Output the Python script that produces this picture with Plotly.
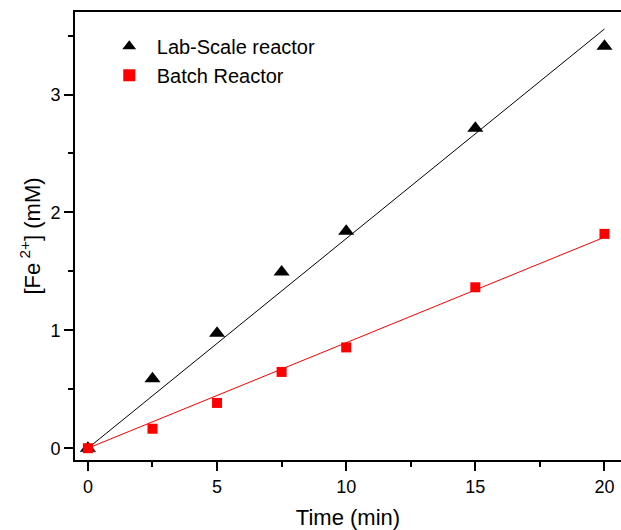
import plotly.graph_objects as go

time_min = [0, 2.5, 5, 7.5, 10, 15, 20]
lab_scale = [0.0, 0.59, 0.975, 1.495, 1.84, 2.715, 3.41]
batch = [0.0, 0.165, 0.384, 0.647, 0.855, 1.365, 1.818]

fit_x = [0, 20]
lab_fit = [0.0, 3.556]
batch_fit = [0.0, 1.79]

FONT = "Arial, Liberation Sans, sans-serif"

fig = go.Figure()
fig.add_trace(go.Scatter(x=fit_x, y=lab_fit, mode="lines",
                         line=dict(color="black", width=1), showlegend=False, hoverinfo="skip"))
fig.add_trace(go.Scatter(x=fit_x, y=batch_fit, mode="lines",
                         line=dict(color="#ff0000", width=1), showlegend=False, hoverinfo="skip"))
fig.add_trace(go.Scatter(x=time_min, y=lab_scale, mode="markers", name="Lab-Scale reactor",
                         marker=dict(symbol="triangle-up", size=14, color="black")))
fig.add_trace(go.Scatter(x=time_min, y=batch, mode="markers", name="Batch Reactor",
                         marker=dict(symbol="square", size=10, color="#ff0000")))

fig.update_layout(
    width=621, height=530,
    margin=dict(l=75, r=0, t=12, b=70),
    paper_bgcolor="white", plot_bgcolor="white",
    font=dict(family=FONT, color="black", size=18),
    legend=dict(x=0.049, y=0.967, xanchor="left", yanchor="top",
                font=dict(size=20), bgcolor="rgba(0,0,0,0)", itemsizing="constant",
                itemwidth=45),
    xaxis=dict(range=[-0.5, 20.64], showgrid=False, zeroline=False,
               showline=True, linecolor="black", linewidth=2, mirror=True,
               ticks="outside", ticklen=9, tickwidth=1.5, tickcolor="black",
               tickvals=[0, 5, 10, 15, 20],
               minor=dict(ticks="outside", ticklen=5, tickwidth=1.5, tickcolor="black", dtick=2.5, tick0=0),
               title=dict(text="Time (min)", font=dict(size=22), standoff=14),
               tickfont=dict(size=18)),
    yaxis=dict(range=[-0.1, 3.7], showgrid=False, zeroline=False,
               showline=True, linecolor="black", linewidth=2, mirror=False,
               ticks="outside", ticklen=9, tickwidth=1.5, tickcolor="black",
               tickvals=[0, 1, 2, 3],
               minor=dict(ticks="outside", ticklen=5, tickwidth=1.5, tickcolor="black", dtick=0.5, tick0=0),
               title=dict(text="[Fe<sup> 2+</sup>] (mM)", font=dict(size=22), standoff=4),
               tickfont=dict(size=18)),
)

fig.write_html("out.html", config={"displayModeBar": False},
               post_script="document.body.style.margin='0';document.body.style.overflow='hidden';")
